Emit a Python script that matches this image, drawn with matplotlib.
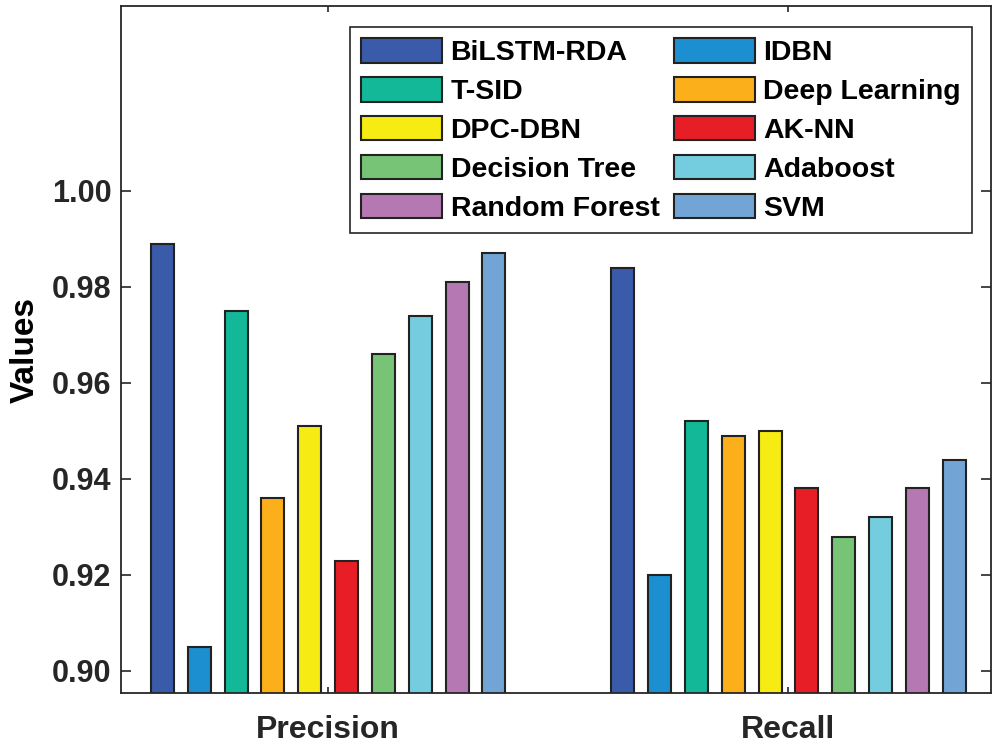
import numpy as np
import matplotlib.pyplot as plt

plt.rcParams['font.family'] = ['Liberation Sans', 'DejaVu Sans']
plt.rcParams['font.weight'] = 'bold'

metrics = ['Precision', 'Recall']
methods = ['BiLSTM-RDA', 'IDBN', 'T-SID', 'Deep Learning', 'DPC-DBN',
           'AK-NN', 'Decision Tree', 'Adaboost', 'Random Forest', 'SVM']
precision = [0.989, 0.905, 0.975, 0.936, 0.951, 0.923, 0.966, 0.974, 0.981, 0.987]
recall = [0.984, 0.920, 0.952, 0.949, 0.950, 0.938, 0.928, 0.932, 0.938, 0.944]
colors = ['#3A5BA9', '#1B8FD0', '#12B897', '#FBAF1B', '#F6EB13',
          '#E81E27', '#77C476', '#74CDDE', '#B578B3', '#72A5D6']

values = np.array([precision, recall])  # rows = metric, cols = method

fig = plt.figure(figsize=(10, 7.46), dpi=100)
ax = fig.add_axes([0.121, 0.071, 0.870, 0.921])

x = np.arange(1, len(metrics) + 1)
step = 0.08
width = 0.05
bars = []
for i, name in enumerate(methods):
    off = (i - (len(methods) - 1) / 2) * step
    b = ax.bar(x + off, values[:, i], width, color=colors[i], edgecolor='#222222',
               linewidth=1.5, label=name)
    bars.append(b)

ax.set_xlim(0.55, 2.44)
ax.set_ylim(0.8954, 1.0385)
ax.set_xticks(x)
ax.set_xticklabels(metrics, fontsize=23, fontweight='bold')
yt = [0.90, 0.92, 0.94, 0.96, 0.98, 1.00]
ax.set_yticks(yt)
ax.set_yticklabels(['%.2f' % v for v in yt], fontsize=22, fontweight='bold')
ax.tick_params(axis='y', direction='in', length=7, width=1.2, right=True, pad=7,
               colors='#262626')
ax.tick_params(axis='x', direction='in', length=4, width=1.2, top=True, pad=16,
               colors='#262626')
for s in ax.spines.values():
    s.set_linewidth(1.3)
    s.set_color('#262626')

ax.set_ylabel('Values', fontsize=24, fontweight='bold', labelpad=8)

# legend filled row by row like the original
order = [0, 2, 4, 6, 8, 1, 3, 5, 7, 9]
leg = ax.legend([bars[i] for i in order], [methods[i] for i in order],
                ncol=2, loc='upper right', bbox_to_anchor=(0.978, 0.969),
                borderaxespad=0, fontsize=20.5, handlelength=2.85, handleheight=0.95,
                handletextpad=0.3, columnspacing=0.5, labelspacing=0.38,
                borderpad=0.38, fancybox=False, framealpha=1)
leg.get_frame().set_edgecolor('#262626')
leg.get_frame().set_linewidth(1.2)
for t in leg.get_texts():
    t.set_fontweight('bold')

fig.savefig('out.png', dpi=100)
